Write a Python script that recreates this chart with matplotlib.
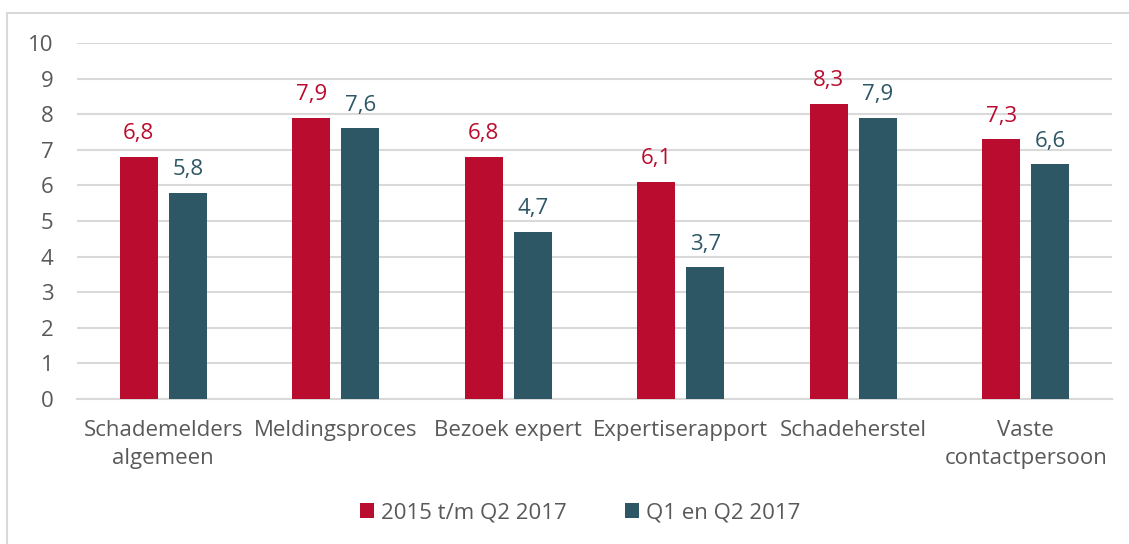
import matplotlib.pyplot as plt
import numpy as np
from matplotlib.patches import Rectangle

plt.rcParams["font.family"] = ["Open Sans", "DejaVu Sans"]

# data
categories = ["Schademelders\nalgemeen", "Meldingsproces", "Bezoek expert",
              "Expertiserapport", "Schadeherstel", "Vaste\ncontactpersoon"]
series_names = ["2015 t/m Q2 2017", "Q1 en Q2 2017"]
scores_2015_2017 = [6.8, 7.9, 6.8, 6.1, 8.3, 7.3]
scores_q1_q2_2017 = [5.8, 7.6, 4.7, 3.7, 7.9, 6.6]

RED = "#BA0C2F"
TEAL = "#2E5766"
TEXT = "#595959"
GRID = "#D9D9D9"

fig = plt.figure(figsize=(11.29, 5.44), dpi=100)
ax = fig.add_axes([77 / 1129, 1 - 399 / 544, (1112 - 77) / 1129, (399 - 43) / 544])

# outer chart border (cropped on right/bottom in the reference)
fig.patches.append(Rectangle((7 / 1129, -0.05), 1.2, 1 - 13 / 544 + 0.05,
                             transform=fig.transFigure, fill=False,
                             edgecolor=GRID, linewidth=1.5))

x = np.arange(len(categories))
w = 0.22
off = 0.142
b1 = ax.bar(x - off, scores_2015_2017, w, color=RED, label=series_names[0], zorder=3)
b2 = ax.bar(x + off, scores_q1_q2_2017, w, color=TEAL, label=series_names[1], zorder=3)

for bars, vals, c in [(b1, scores_2015_2017, RED), (b2, scores_q1_q2_2017, TEAL)]:
    for r, v in zip(bars, vals):
        ax.annotate(f"{v:.1f}".replace(".", ","),
                    (r.get_x() + r.get_width() / 2, v),
                    xytext=(0, 9), textcoords="offset points",
                    ha="center", va="bottom", color=c, fontsize=16)

ax.set_xlim(-0.5, len(categories) - 0.5)
ax.set_ylim(0, 10)
ax.set_yticks(range(0, 11))
ax.yaxis.grid(True, color=GRID, linewidth=1.5, zorder=0)
ax.set_axisbelow(True)
for s in ["top", "right", "left"]:
    ax.spines[s].set_visible(False)
ax.spines["bottom"].set_color(GRID)
ax.spines["bottom"].set_linewidth(1.5)
ax.tick_params(axis="both", length=0, labelsize=16, colors=TEXT)
ax.tick_params(axis="y", pad=17)
ax.tick_params(axis="x", pad=15)
ax.set_xticks(x)
ax.set_xticklabels(categories, linespacing=1.45)
for lab in ax.get_yticklabels():
    lab.set_horizontalalignment("right")

fig.legend(loc="center", bbox_to_anchor=(580 / 1129, 1 - 513 / 544), ncol=2,
           frameon=False, fontsize=16, labelcolor=TEXT, handlelength=0.65,
           handleheight=0.65, handletextpad=0.3, columnspacing=2.6)

fig.savefig("out.png", dpi=100)
